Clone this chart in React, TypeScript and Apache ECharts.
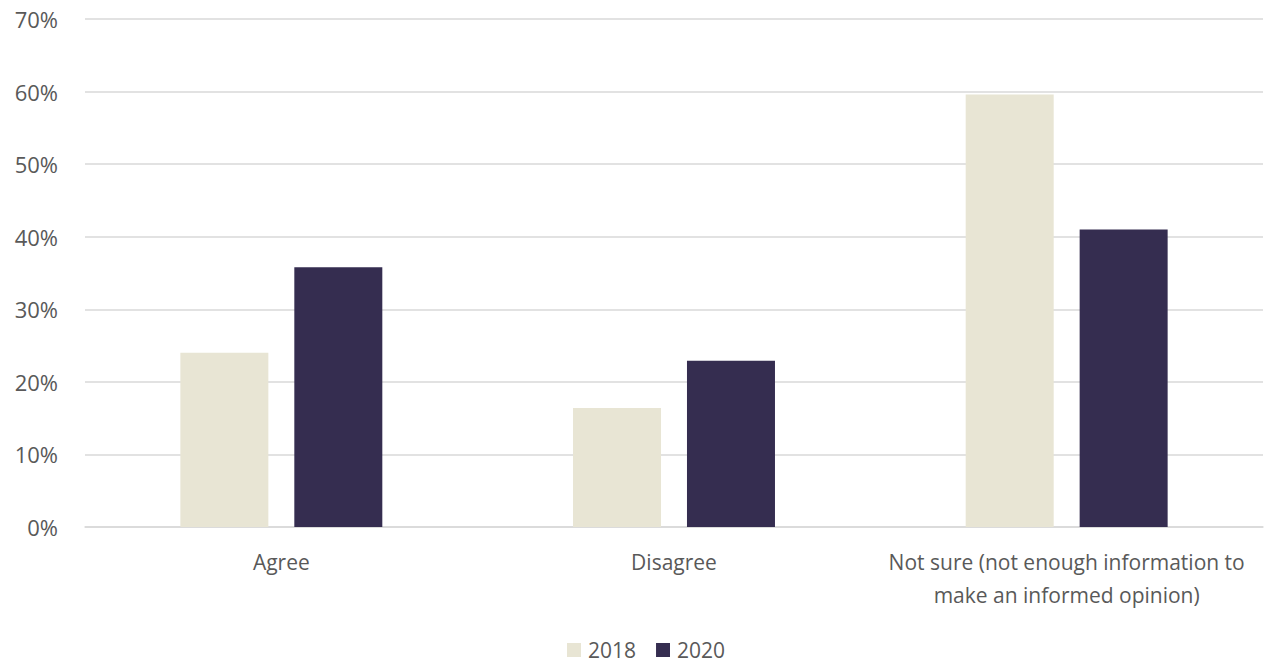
import React, { useEffect, useRef } from "react";
import * as echarts from "echarts";

const categories = ["Agree", "Disagree", "Not sure (not enough information to\nmake an informed opinion)"];
const values2018 = [24.0, 16.4, 59.6];
const values2020 = [35.8, 22.9, 41.0];
const seriesNames = ["2018", "2020"];

export default function App() {
  const ref = useRef<HTMLDivElement>(null);
  useEffect(() => {
    if (!ref.current) return;
    const chart = echarts.init(ref.current, null, { renderer: "svg" });
    const font = "'Open Sans', sans-serif";
    chart.setOption({
      animation: false,
      backgroundColor: "#ffffff",
      grid: { left: 85, right: 3, top: 19, bottom: 136, containLabel: false },
      legend: {
        data: seriesNames,
        left: 567,
        top: 639,
        itemWidth: 14,
        itemHeight: 14,
        itemGap: 20,
        icon: "rect",
        textStyle: { fontFamily: font, fontSize: 21, lineHeight: 22, color: "#595959", padding: [0, 0, 0, 2] },
        padding: 0,
      },
      xAxis: {
        type: "category",
        data: categories,
        axisLine: { show: true, lineStyle: { color: "#D9D9D9", width: 1.5 } },
        axisTick: { show: false },
        axisLabel: {
          fontFamily: font,
          fontSize: 21,
          color: "#595959",
          margin: 18,
          lineHeight: 33,
          interval: 0,
        },
      },
      yAxis: {
        type: "value",
        min: 0,
        max: 70,
        interval: 10,
        axisLabel: {
          formatter: "{value}%",
          fontFamily: font,
          fontSize: 22,
          color: "#595959",
          margin: 27,
        },
        axisLine: { show: false },
        axisTick: { show: false },
        splitLine: { lineStyle: { color: "#D9D9D9", width: 1.5 } },
      },
      series: [
        {
          name: seriesNames[0],
          type: "bar",
          data: values2018,
          barWidth: 88,
          barGap: "29.5%",
          itemStyle: { color: "#E8E5D4" },
        },
        {
          name: seriesNames[1],
          type: "bar",
          data: values2020,
          barWidth: 88,
          itemStyle: { color: "#352D50" },
        },
      ],
    });
    return () => chart.dispose();
  }, []);
  return (
    <div
      ref={ref}
      style={{ position: "fixed", left: 0, top: 0, width: 1266, height: 663 }}
    />
  );
}
